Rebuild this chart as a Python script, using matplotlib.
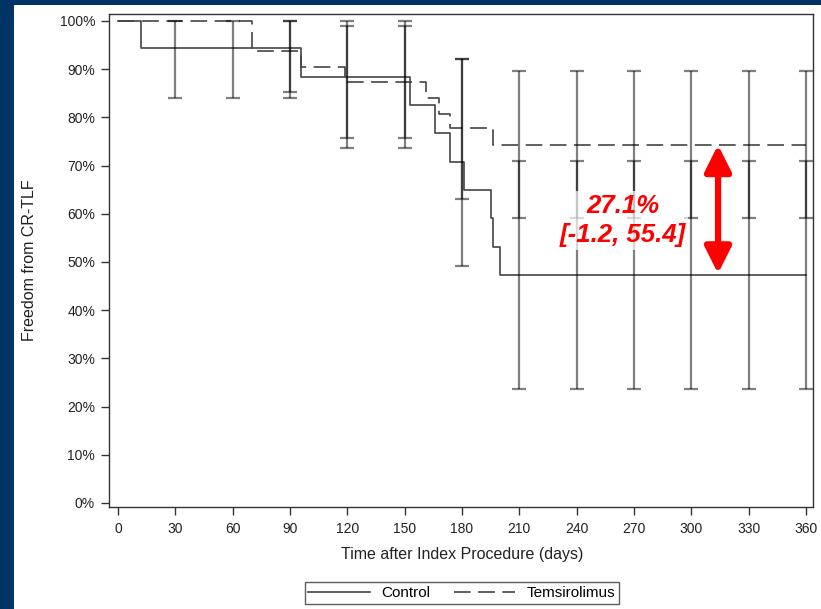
import matplotlib
matplotlib.use("Agg")
import matplotlib.pyplot as plt
from matplotlib.patches import Rectangle, FancyArrowPatch
from matplotlib.ticker import FuncFormatter

plt.rcParams['font.family'] = ['Liberation Sans', 'DejaVu Sans']

# Kaplan-Meier step curves (days, % free from CR-TLF)
ctrl_t = [0, 12, 96, 153, 166, 174, 181, 195, 196, 200, 360]
ctrl_v = [100, 94.4, 88.4, 82.6, 76.7, 70.8, 64.9, 59.1, 53.2, 47.3, 47.3]
tems_t = [0, 70, 96, 119, 161, 168, 174, 196, 360]
tems_v = [100, 93.8, 90.4, 87.4, 84.1, 80.8, 77.7, 74.3, 74.3]

# confidence interval bars
ctrl_ci_t = [30, 60, 90, 120, 150, 180, 210, 240, 270, 300, 330, 360]
ctrl_lo = [84, 84, 84, 73.6, 73.6, 49.2, 23.6, 23.6, 23.6, 23.6, 23.6, 23.6]
ctrl_hi = [100, 100, 100, 99, 99, 92.2, 89.7, 89.7, 89.7, 89.7, 89.7, 89.7]
tems_ci_t = [90, 120, 150, 180, 210, 240, 270, 300, 330, 360]
tems_lo = [85.3, 75.7, 75.7, 63, 59.1, 59.1, 59.1, 59.1, 59.1, 59.1]
tems_hi = [100, 100, 100, 92.2, 71, 71, 71, 71, 71, 71]

x_ticks = list(range(0, 361, 30))
y_ticks = list(range(0, 101, 10))

W, H = 821, 609
fig = plt.figure(figsize=(W / 100, H / 100), dpi=100, facecolor='#003366')
fig.patches.append(Rectangle((14 / W, 0), 1 - 14 / W, 1 - 5 / H, transform=fig.transFigure,
                             facecolor='white', edgecolor='none', zorder=-10))

ax = fig.add_axes([109 / W, 1 - 507 / H, (813 - 109) / W, (507 - 14) / H])
ax.set_facecolor('white')

ax.step(ctrl_t, ctrl_v, where='post', color='#444444', lw=1.2, label='Control')
ax.step(tems_t, tems_v, where='post', color='#444444', lw=1.2, dashes=(10, 4.5),
        label='Temsirolimus')


def ci_bars(t, lo, hi):
    mid = [(a + b) / 2 for a, b in zip(lo, hi)]
    half = [(b - a) / 2 for a, b in zip(lo, hi)]
    ax.errorbar(t, mid, yerr=half, fmt='none', ecolor='black', alpha=0.5,
                elinewidth=1.6, capsize=5, capthick=1.6)


ci_bars(ctrl_ci_t, ctrl_lo, ctrl_hi)
ci_bars(tems_ci_t, tems_lo, tems_hi)

ax.set_xlim(-4.7, 363.7)
ax.set_ylim(-0.83, 101.45)
ax.set_xticks(x_ticks)
ax.set_yticks(y_ticks)
ax.yaxis.set_major_formatter(FuncFormatter(lambda v, p: f"{v:.0f}%"))
ax.tick_params(axis='both', direction='out', length=6, width=1, color='#333333',
               labelsize=10, labelcolor='#222222')
ax.tick_params(axis='y', pad=4)
ax.tick_params(axis='x', pad=5)
for s in ax.spines.values():
    s.set_color('#333333')
    s.set_linewidth(1)

ax.set_xlabel('Time after Index Procedure (days)', fontsize=11.5, color='#222222')
ax.set_ylabel('Freedom from CR-TLF', fontsize=11.5, color='#222222')
ax.xaxis.set_label_coords(0.501, -0.082)
ax.yaxis.set_label_coords(-0.102, 0.5)

# difference annotation
ax.text(264, 58.6, '27.1%\n[-1.2, 55.4]', color='red', fontsize=18.5, fontweight='bold',
        fontstyle='italic', ha='center', va='center', linespacing=1.25,
        bbox=dict(facecolor='white', alpha=0.7, edgecolor='none', pad=2), zorder=5)
arr = FancyArrowPatch((314, 74.3), (314, 47.6), arrowstyle='<|-|>,head_length=16,head_width=8',
                      mutation_scale=1, lw=4.5, color='red', shrinkA=0, shrinkB=0, zorder=6)
ax.add_patch(arr)

leg = fig.legend(loc='center', bbox_to_anchor=(462 / W, 1 - 593 / H), ncol=2, fontsize=11,
                 frameon=True, fancybox=False, edgecolor='#333333', handlelength=4,
                 columnspacing=1.5, borderpad=0.25, handletextpad=0.8)
leg.get_frame().set_linewidth(1)

fig.savefig('out.png', dpi=100, facecolor=fig.get_facecolor())
